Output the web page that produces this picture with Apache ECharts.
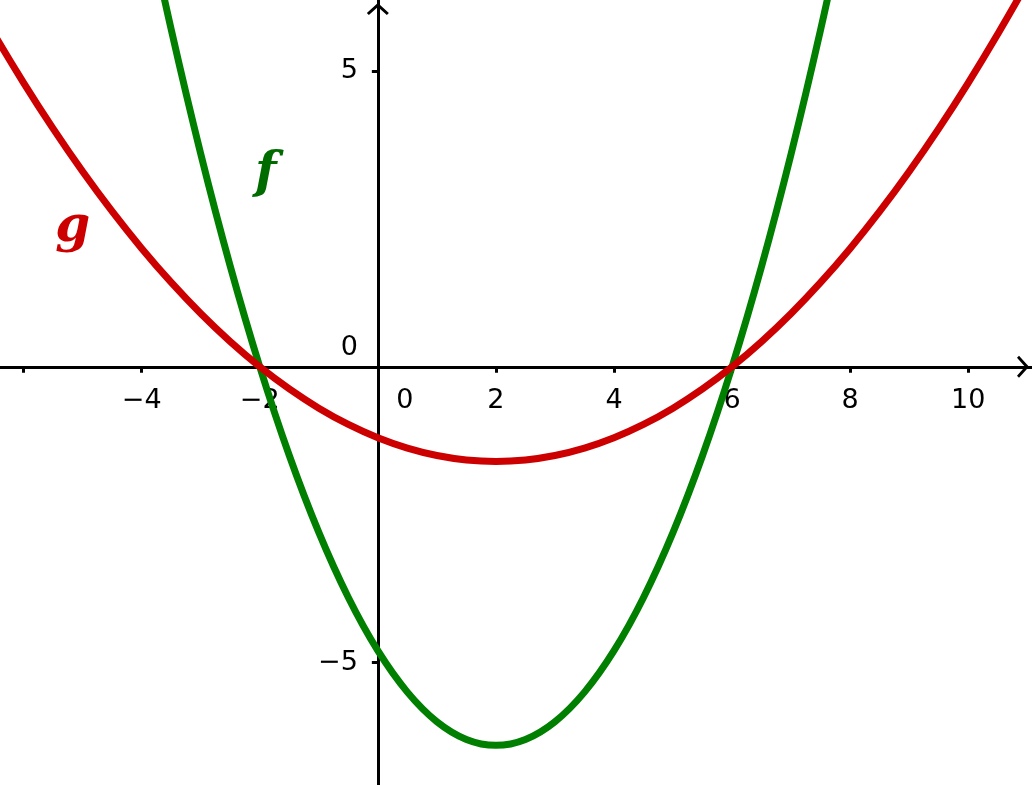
<!DOCTYPE html>
<html>
<head>
<meta charset="utf-8">
<script src="https://cdn.jsdelivr.net/npm/echarts@6/dist/echarts.min.js"></script>
<style>html,body{margin:0;padding:0;background:#fff}#c{width:1032px;height:785px}</style>
</head>
<body>
<div id="c"></div>
<script>
// f(x): green parabola
const fX = [-4, -3.5, -3, -2.5, -2, -1.5, -1, -0.5, 0, 0.5, 1, 1.5, 2, 2.5, 3, 3.5, 4, 4.5, 5, 5.5, 6, 6.5, 7, 7.5, 8];
const fY = [8, 5.7, 3.6, 1.7, 0, -1.5, -2.8, -3.9, -4.8, -5.5, -6, -6.3, -6.4, -6.3, -6, -5.5, -4.8, -3.9, -2.8, -1.5, 0, 1.7, 3.6, 5.7, 8];
// g(x): red parabola
const gX = [-7, -6.5, -6, -5.5, -5, -4.5, -4, -3.5, -3, -2.5, -2, -1.5, -1, -0.5, 0, 0.5, 1, 1.5, 2, 2.5, 3, 3.5, 4, 4.5, 5, 5.5, 6, 6.5, 7, 7.5, 8, 8.5, 9, 9.5, 10, 10.5, 11, 11.5];
const gY = [6.5, 5.625, 4.8, 4.025, 3.3, 2.625, 2, 1.425, 0.9, 0.425, 0, -0.375, -0.7, -0.975, -1.2, -1.375, -1.5, -1.575, -1.6, -1.575, -1.5, -1.375, -1.2, -0.975, -0.7, -0.375, 0, 0.425, 0.9, 1.425, 2, 2.625, 3.3, 4.025, 4.8, 5.625, 6.5, 7.475];
const xTicks = [-6, -4, -2, 2, 4, 6, 8, 10];
const xLabels = [-4, -2, 0, 2, 4, 6, 8, 10];
const yTicks = [-5, 5];
const yLabels = [-5, 0, 5];
const xMin = -6.4, xMax = 11.08, yMin = -7.07, yMax = 6.2;
const fName = 'f', gName = 'g';
const fLabelPos = [-1.9, 3.25];
const gLabelPos = [-5.17, 2.35];

const W = 1032, H = 785;
const zip = (xs, ys) => xs.map((x, i) => [x, ys[i]]);
const fmt = v => String(v).replace('-', '\u2212');
const FONT = 'DejaVu Sans';
const chevron = 'path://M0,10 L11,0 L22,10 L20,12 L11,4 L2,12 Z';
// place each axis line at the other axis' zero
const xAxisOffset = -((0 - yMin) / (yMax - yMin)) * H;
const yAxisOffset = -((0 - xMin) / (xMax - xMin)) * W;

const chart = echarts.init(document.getElementById('c'), null, {renderer: 'canvas'});
chart.setOption({
  animation: false,
  backgroundColor: '#ffffff',
  grid: {left: 0, right: 0, top: 0, bottom: 0, containLabel: false, outerBoundsMode: 'none'},
  xAxis: {
    type: 'value', min: xMin, max: xMax, position: 'bottom', offset: xAxisOffset,
    splitLine: {show: false},
    axisLine: {onZero: false, lineStyle: {color: '#000', width: 3}, symbol: ['none', chevron], symbolSize: [22, 12], symbolOffset: [0, -9]},
    axisTick: {show: true, inside: false, length: 6, lineStyle: {color: '#000', width: 3}, customValues: xTicks},
    axisLabel: {
      show: true, customValues: xLabels, margin: 21, color: '#000', fontFamily: FONT, fontSize: 27,
      showMinLabel: true, showMaxLabel: true, hideOverlap: false,
      formatter: v => v === 0 ? '{z|0}' : fmt(v),
      rich: {z: {fontFamily: FONT, fontSize: 27, color: '#000', padding: [0, 0, 0, 54]}}
    }
  },
  yAxis: {
    type: 'value', min: yMin, max: yMax, position: 'left', offset: yAxisOffset,
    splitLine: {show: false},
    axisLine: {onZero: false, lineStyle: {color: '#000', width: 3}, symbol: ['none', chevron], symbolSize: [22, 12], symbolOffset: [0, -9]},
    axisTick: {show: true, length: 6, lineStyle: {color: '#000', width: 3}, customValues: yTicks},
    axisLabel: {
      show: true, customValues: yLabels, margin: 20, color: '#000', fontFamily: FONT, fontSize: 27,
      hideOverlap: false,
      formatter: v => v === 0 ? '{z|0}' : fmt(v),
      rich: {z: {fontFamily: FONT, fontSize: 27, color: '#000', padding: [0, 0, 38, 0]}}
    }
  },
  series: [
    {
      type: 'line', name: fName, data: zip(fX, fY), smooth: 0.35, showSymbol: false, symbol: 'none',
      lineStyle: {color: '#007f00', width: 7}, z: 3
    },
    {
      type: 'line', name: gName, data: zip(gX, gY), smooth: 0.35, showSymbol: false, symbol: 'none',
      lineStyle: {color: '#cc0000', width: 7}, z: 4
    },
    {
      type: 'scatter', symbolSize: 0, z: 5, itemStyle: {opacity: 1},
      data: [{value: fLabelPos, name: fName, label: {color: '#006c00'}}, {value: gLabelPos, name: gName, label: {color: '#cc0000'}}],
      label: {show: true, position: 'inside', formatter: p => p.name, fontFamily: 'DejaVu Serif', fontStyle: 'italic', fontWeight: 'bold', fontSize: 50, opacity: 1}
    }
  ]
});
</script>
</body>
</html>
